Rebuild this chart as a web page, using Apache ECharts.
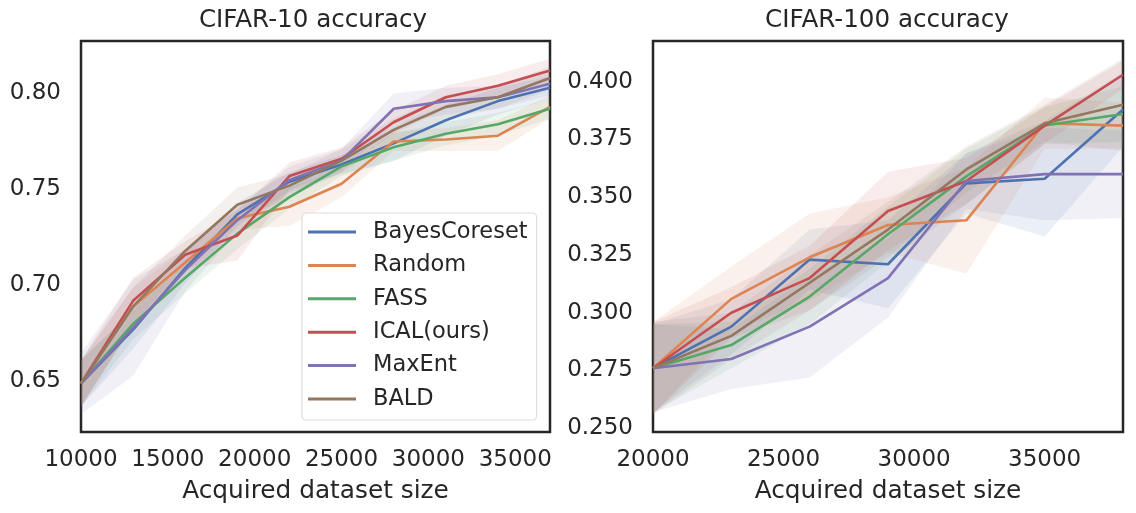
<!DOCTYPE html>
<html>
<head>
<meta charset="utf-8">
<script src="https://cdn.jsdelivr.net/npm/echarts@6/dist/echarts.min.js"></script>
<style>
html,body{margin:0;padding:0;background:#fff;}
#chart{width:1136px;height:513px;}
</style>
</head>
<body>
<div id="chart"></div>
<script>
// ---- data ----
const methods = ['BayesCoreset', 'Random', 'FASS', 'ICAL(ours)', 'MaxEnt', 'BALD'];
const colors = ['#4C72B0', '#DD8452', '#55A868', '#C44E52', '#8172B3', '#937860'];

// CIFAR-10
const c10Sizes = [10000, 13000, 16000, 19000, 22000, 25000, 28000, 31000, 34000, 37000];
const c10BayesCoreset = [0.649, 0.677, 0.709, 0.737, 0.754, 0.763, 0.774, 0.786, 0.796, 0.803];
const c10Random       = [0.649, 0.689, 0.712, 0.735, 0.741, 0.753, 0.775, 0.776, 0.778, 0.793];
const c10FASS         = [0.649, 0.680, 0.704, 0.727, 0.746, 0.762, 0.772, 0.779, 0.784, 0.792];
const c10ICAL         = [0.649, 0.692, 0.716, 0.726, 0.757, 0.766, 0.785, 0.798, 0.804, 0.812];
const c10MaxEnt       = [0.649, 0.678, 0.708, 0.734, 0.755, 0.765, 0.792, 0.796, 0.798, 0.805];
const c10BALD         = [0.649, 0.689, 0.718, 0.742, 0.752, 0.765, 0.781, 0.793, 0.798, 0.808];
// spread (shaded band half-width)
const c10SdBayesCoreset = [0.012, 0.010, 0.008, 0.006, 0.005, 0.005, 0.009, 0.008, 0.007, 0.006];
const c10SdRandom       = [0.012, 0.010, 0.007, 0.006, 0.010, 0.007, 0.005, 0.006, 0.008, 0.006];
const c10SdFASS         = [0.012, 0.008, 0.008, 0.008, 0.006, 0.005, 0.007, 0.006, 0.006, 0.005];
const c10SdICAL         = [0.012, 0.012, 0.007, 0.013, 0.007, 0.006, 0.006, 0.006, 0.006, 0.006];
const c10SdMaxEnt       = [0.016, 0.025, 0.011, 0.006, 0.007, 0.006, 0.008, 0.007, 0.006, 0.006];
const c10SdBALD         = [0.012, 0.010, 0.008, 0.009, 0.006, 0.006, 0.006, 0.006, 0.006, 0.006];

// CIFAR-100
const c100Sizes = [20000, 23000, 26000, 29000, 32000, 35000, 38000];
const c100BayesCoreset = [0.276, 0.294, 0.323, 0.321, 0.356, 0.358, 0.388];
const c100Random       = [0.276, 0.306, 0.324, 0.338, 0.340, 0.382, 0.381];
const c100FASS         = [0.276, 0.286, 0.307, 0.334, 0.359, 0.381, 0.386];
const c100ICAL         = [0.276, 0.300, 0.315, 0.344, 0.357, 0.381, 0.403];
const c100MaxEnt       = [0.276, 0.280, 0.294, 0.315, 0.357, 0.360, 0.360];
const c100BALD         = [0.276, 0.290, 0.313, 0.336, 0.362, 0.382, 0.390];
const c100SdBayesCoreset = [0.019, 0.012, 0.013, 0.019, 0.013, 0.025, 0.016];
const c100SdRandom       = [0.020, 0.014, 0.019, 0.012, 0.023, 0.011, 0.010];
const c100SdFASS         = [0.019, 0.010, 0.012, 0.012, 0.012, 0.008, 0.012];
const c100SdICAL         = [0.020, 0.011, 0.014, 0.017, 0.010, 0.008, 0.006];
const c100SdMaxEnt       = [0.019, 0.013, 0.022, 0.017, 0.012, 0.020, 0.019];
const c100SdBALD         = [0.020, 0.010, 0.012, 0.012, 0.010, 0.008, 0.020];

// tick labels
const c10XTicks = [10000, 15000, 20000, 25000, 30000, 35000];
const c10YTicks = [0.65, 0.70, 0.75, 0.80];
const c100XTicks = [20000, 25000, 30000, 35000];
const c100YTicks = [0.250, 0.275, 0.300, 0.325, 0.350, 0.375, 0.400];

const titles = ['CIFAR-10 accuracy', 'CIFAR-100 accuracy'];
const xName = 'Acquired dataset size';

// ---- build ----
const c10Means = [c10BayesCoreset, c10Random, c10FASS, c10ICAL, c10MaxEnt, c10BALD];
const c10Sds = [c10SdBayesCoreset, c10SdRandom, c10SdFASS, c10SdICAL, c10SdMaxEnt, c10SdBALD];
const c100Means = [c100BayesCoreset, c100Random, c100FASS, c100ICAL, c100MaxEnt, c100BALD];
const c100Sds = [c100SdBayesCoreset, c100SdRandom, c100SdFASS, c100SdICAL, c100SdMaxEnt, c100SdBALD];

const FONT = 'DejaVu Sans';
const TXT = '#262626';

function bandSeries(idx, xs, mean, sd, color) {
  return {
    type: 'custom',
    xAxisIndex: idx, yAxisIndex: idx,
    silent: true, z: 1,
    data: [[xs[0], mean[0]]],
    renderItem: function (params, api) {
      const up = [], lo = [];
      for (let i = 0; i < xs.length; i++) {
        up.push(api.coord([xs[i], mean[i] + sd[i]]));
        lo.push(api.coord([xs[i], mean[i] - sd[i]]));
      }
      return {
        type: 'polygon',
        shape: { points: up.concat(lo.reverse()) },
        style: { fill: color, opacity: 0.11 }
      };
    }
  };
}

function lineSeries(idx, name, xs, ys, color) {
  return {
    type: 'line', name: name,
    xAxisIndex: idx, yAxisIndex: idx,
    data: xs.map((x, i) => [x, ys[i]]),
    showSymbol: false, symbol: 'none',
    lineStyle: { color: color, width: 2.6 },
    itemStyle: { color: color },
    z: 3
  };
}

const series = [];
methods.forEach((m, k) => {
  series.push(bandSeries(0, c10Sizes, c10Means[k], c10Sds[k], colors[k]));
  series.push(bandSeries(1, c100Sizes, c100Means[k], c100Sds[k], colors[k]));
});
methods.forEach((m, k) => {
  series.push(lineSeries(0, m, c10Sizes, c10Means[k], colors[k]));
  series.push(lineSeries(1, m, c100Sizes, c100Means[k], colors[k]));
});

function xAxis(idx, min, max, ticks) {
  return {
    type: 'value', gridIndex: idx, min: min, max: max,
    name: xName, nameLocation: 'middle', nameGap: 47,
    nameTextStyle: { fontFamily: FONT, fontSize: 24.8, color: TXT },
    axisLine: { show: false }, axisTick: { show: false }, splitLine: { show: false },
    axisLabel: {
      customValues: ticks, margin: 17,
      fontFamily: FONT, fontSize: 23, color: TXT,
      formatter: v => String(v)
    }
  };
}
function yAxis(idx, min, max, ticks, dec) {
  return {
    type: 'value', gridIndex: idx, min: min, max: max,
    axisLine: { show: false }, axisTick: { show: false }, splitLine: { show: false },
    axisLabel: {
      customValues: ticks, margin: 20,
      fontFamily: FONT, fontSize: 23, color: TXT,
      padding: [5, 0, 0, 0],
      formatter: v => v.toFixed(dec)
    }
  };
}

const chart = echarts.init(document.getElementById('chart'), null, { renderer: 'canvas' });
chart.setOption({
  animation: false,
  backgroundColor: '#ffffff',
  title: [
    { text: titles[0], left: 313, top: 8, padding: 0, textAlign: 'center',
      textStyle: { fontFamily: FONT, fontSize: 24.6, fontWeight: 'normal', color: TXT } },
    { text: titles[1], left: 887, top: 8, padding: 0, textAlign: 'center',
      textStyle: { fontFamily: FONT, fontSize: 24.6, fontWeight: 'normal', color: TXT } }
  ],
  grid: [
    { left: 81, right: 1136 - 550, top: 41, bottom: 513 - 432, show: true,
      borderColor: '#262626', borderWidth: 2.5, backgroundColor: 'transparent' },
    { left: 653, right: 1136 - 1123, top: 41, bottom: 513 - 432, show: true,
      borderColor: '#262626', borderWidth: 2.5, backgroundColor: 'transparent' }
  ],
  xAxis: [
    xAxis(0, 10000, 37000, c10XTicks),
    xAxis(1, 20000, 38000, c100XTicks)
  ],
  yAxis: [
    yAxis(0, 0.6237, 0.8273, c10YTicks, 2),
    yAxis(1, 0.2484, 0.4176, c100YTicks, 3)
  ],
  legend: {
    data: methods,
    orient: 'vertical',
    left: 302, top: 213,
    padding: [7, 9, 9, 6],
    itemGap: 9.4,
    itemWidth: 48, itemHeight: 3,
    icon: 'rect',
    backgroundColor: 'rgba(255,255,255,0.85)',
    borderColor: '#dddddd', borderWidth: 1.2, borderRadius: 4,
    textStyle: { fontFamily: FONT, fontSize: 22.5, color: TXT, lineHeight: 24, padding: [0, 0, 0, 12] },
    z: 10
  },
  series: series
});
</script>
</body>
</html>
